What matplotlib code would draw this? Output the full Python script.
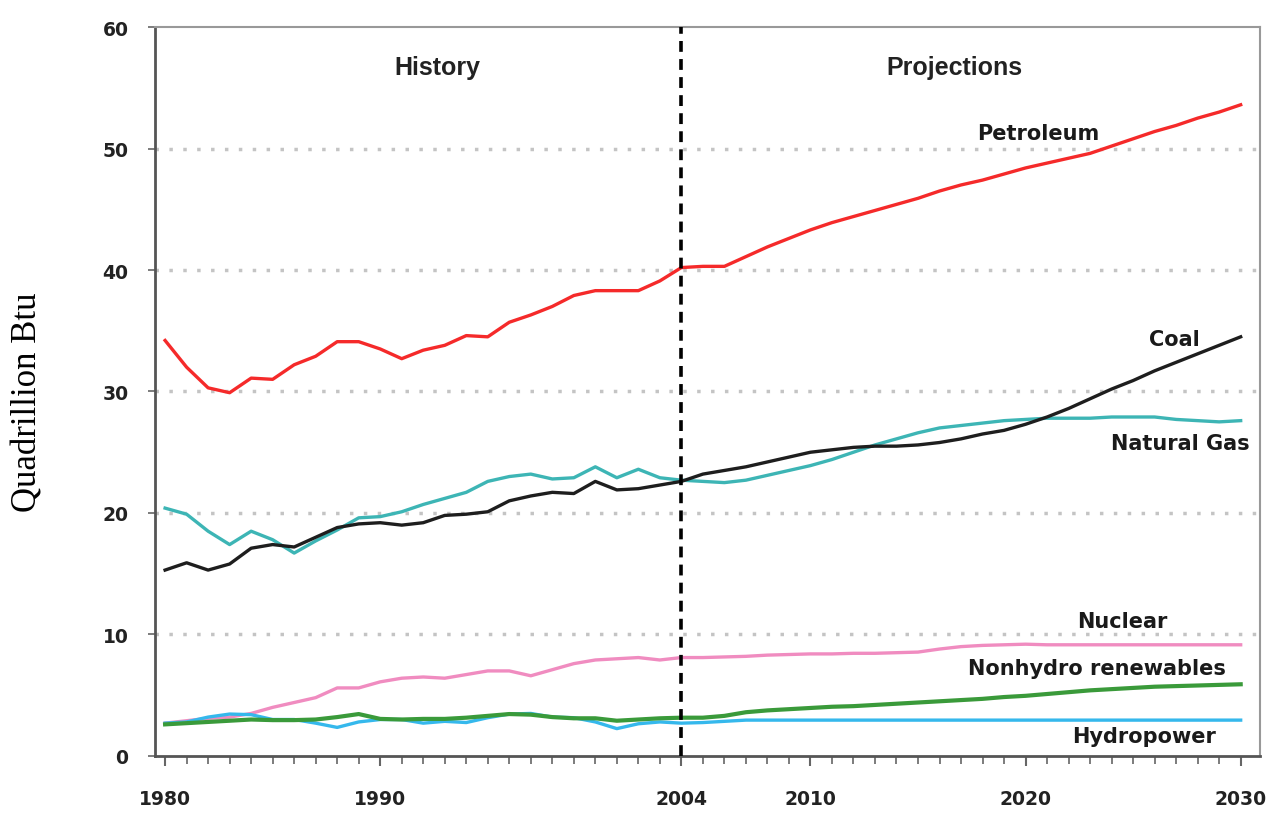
import matplotlib
matplotlib.use('Agg')
import matplotlib.pyplot as plt

# years 1980-2004 history, 2005-2030 projections
years = list(range(1980, 2031))

petroleum = [34.2, 32.0, 30.3, 29.9, 31.1, 31.0, 32.2, 32.9, 34.1, 34.1,
             33.5, 32.7, 33.4, 33.8, 34.6, 34.5, 35.7, 36.3, 37.0, 37.9,
             38.3, 38.3, 38.3, 39.1, 40.2,
             40.3, 40.3, 41.1, 41.9, 42.6, 43.3, 43.9, 44.4, 44.9, 45.4,
             45.9, 46.5, 47.0, 47.4, 47.9, 48.4, 48.8, 49.2, 49.6, 50.2,
             50.8, 51.4, 51.9, 52.5, 53.0, 53.6]
coal = [15.3, 15.9, 15.3, 15.8, 17.1, 17.4, 17.2, 18.0, 18.8, 19.1,
        19.2, 19.0, 19.2, 19.8, 19.9, 20.1, 21.0, 21.4, 21.7, 21.6,
        22.6, 21.9, 22.0, 22.3, 22.6,
        23.2, 23.5, 23.8, 24.2, 24.6, 25.0, 25.2, 25.4, 25.5, 25.5,
        25.6, 25.8, 26.1, 26.5, 26.8, 27.3, 27.9, 28.6, 29.4, 30.2,
        30.9, 31.7, 32.4, 33.1, 33.8, 34.5]
natural_gas = [20.4, 19.9, 18.5, 17.4, 18.5, 17.8, 16.7, 17.7, 18.6, 19.6,
               19.7, 20.1, 20.7, 21.2, 21.7, 22.6, 23.0, 23.2, 22.8, 22.9,
               23.8, 22.9, 23.6, 22.9, 22.7,
               22.6, 22.5, 22.7, 23.1, 23.5, 23.9, 24.4, 25.0, 25.6, 26.1,
               26.6, 27.0, 27.2, 27.4, 27.6, 27.7, 27.8, 27.8, 27.8, 27.9,
               27.9, 27.9, 27.7, 27.6, 27.5, 27.6]
nuclear = [2.7, 2.9, 3.1, 3.2, 3.5, 4.0, 4.4, 4.8, 5.6, 5.6,
           6.1, 6.4, 6.5, 6.4, 6.7, 7.0, 7.0, 6.6, 7.1, 7.6,
           7.9, 8.0, 8.1, 7.9, 8.1,
           8.1, 8.15, 8.2, 8.3, 8.35, 8.4, 8.4, 8.45, 8.45, 8.5,
           8.55, 8.8, 9.0, 9.1, 9.15, 9.2, 9.15, 9.15, 9.15, 9.15,
           9.15, 9.15, 9.15, 9.15, 9.15, 9.15]
renewables = [2.6, 2.7, 2.8, 2.9, 3.0, 2.95, 2.95, 3.0, 3.2, 3.45,
              3.05, 3.0, 3.05, 3.05, 3.15, 3.3, 3.45, 3.4, 3.2, 3.1,
              3.1, 2.9, 3.0, 3.1, 3.15,
              3.15, 3.3, 3.6, 3.75, 3.85, 3.95, 4.05, 4.1, 4.2, 4.3,
              4.4, 4.5, 4.6, 4.7, 4.85, 4.95, 5.1, 5.25, 5.4, 5.5,
              5.6, 5.7, 5.75, 5.8, 5.85, 5.9]
hydropower = [2.7, 2.8, 3.2, 3.45, 3.4, 3.0, 3.0, 2.7, 2.35, 2.8,
              3.0, 3.0, 2.7, 2.85, 2.75, 3.15, 3.45, 3.5, 3.2, 3.15,
              2.8, 2.25, 2.65, 2.8, 2.7,
              2.75, 2.85, 2.95, 2.95, 2.95, 2.95, 2.95, 2.95, 2.95, 2.95,
              2.95, 2.95, 2.95, 2.95, 2.95, 2.95, 2.95, 2.95, 2.95, 2.95,
              2.95, 2.95, 2.95, 2.95, 2.95, 2.95]

fig = plt.figure(figsize=(12.83, 8.29), dpi=100)
ax = fig.add_axes([0.1208, 0.0869, 0.8613, 0.8793])

lw = 2.4
ax.plot(years, nuclear, color='#f08cc0', lw=lw)
ax.plot(years, hydropower, color='#35b8ec', lw=lw)
ax.plot(years, renewables, color='#3a9a3a', lw=lw + 0.6)
ax.plot(years, natural_gas, color='#3db5b5', lw=lw)
ax.plot(years, coal, color='#1e1e1e', lw=lw)
ax.plot(years, petroleum, color='#f52a2a', lw=lw)

ax.axvline(2004, color='black', lw=2.6, linestyle=(0, (3, 2)), zorder=5)

ax.set_xlim(1979.53, 2030.9)
ax.set_ylim(0, 60)
ax.set_yticks(range(0, 61, 10))
ax.set_xticks([1980, 1990, 2004, 2010, 2020, 2030])
ax.set_xticks(years, minor=True)

for v in range(10, 60, 10):
    ax.axhline(v, color='#c4c4c4', lw=2.5, linestyle=(0, (1, 3)), zorder=0)

for lab in ax.get_xticklabels() + ax.get_yticklabels():
    lab.set_fontweight('bold')
    lab.set_fontsize(13.5)
    lab.set_color('#222222')

ax.tick_params(axis='both', which='both', direction='out', color='#666666')
ax.tick_params(axis='x', which='major', length=7, width=1.5, pad=17)
ax.tick_params(axis='x', which='minor', length=6, width=1.2)
ax.tick_params(axis='y', length=5, width=1.2, pad=14)

for side in ['left', 'bottom']:
    ax.spines[side].set_color('#555555')
    ax.spines[side].set_linewidth(2)
for side in ['top', 'right']:
    ax.spines[side].set_color('#999999')
    ax.spines[side].set_linewidth(1.5)

ax.set_ylabel('Quadrillion Btu', family='Liberation Serif', fontsize=25,
              labelpad=0)
ax.yaxis.set_label_coords(-0.1, 0.487)

hdr = dict(family='Liberation Sans', fontweight='bold', fontsize=18,
           ha='center', va='center', color='#222222')
ax.text(1992.65, 56.7, 'History', **hdr)
ax.text(2016.7, 56.7, 'Projections', **hdr)

lbl = dict(fontweight='bold', fontsize=15, ha='center', va='center',
           color='#1a1a1a')
ax.text(2020.6, 51.3, 'Petroleum', **lbl)
ax.text(2026.9, 34.3, 'Coal', **lbl)
ax.text(2027.2, 25.8, 'Natural Gas', **lbl)
ax.text(2024.5, 11.1, 'Nuclear', **lbl)
ax.text(2023.3, 7.2, 'Nonhydro renewables', **lbl)
ax.text(2025.5, 1.65, 'Hydropower', **lbl)

fig.savefig('out.png', dpi=100, facecolor='white')
